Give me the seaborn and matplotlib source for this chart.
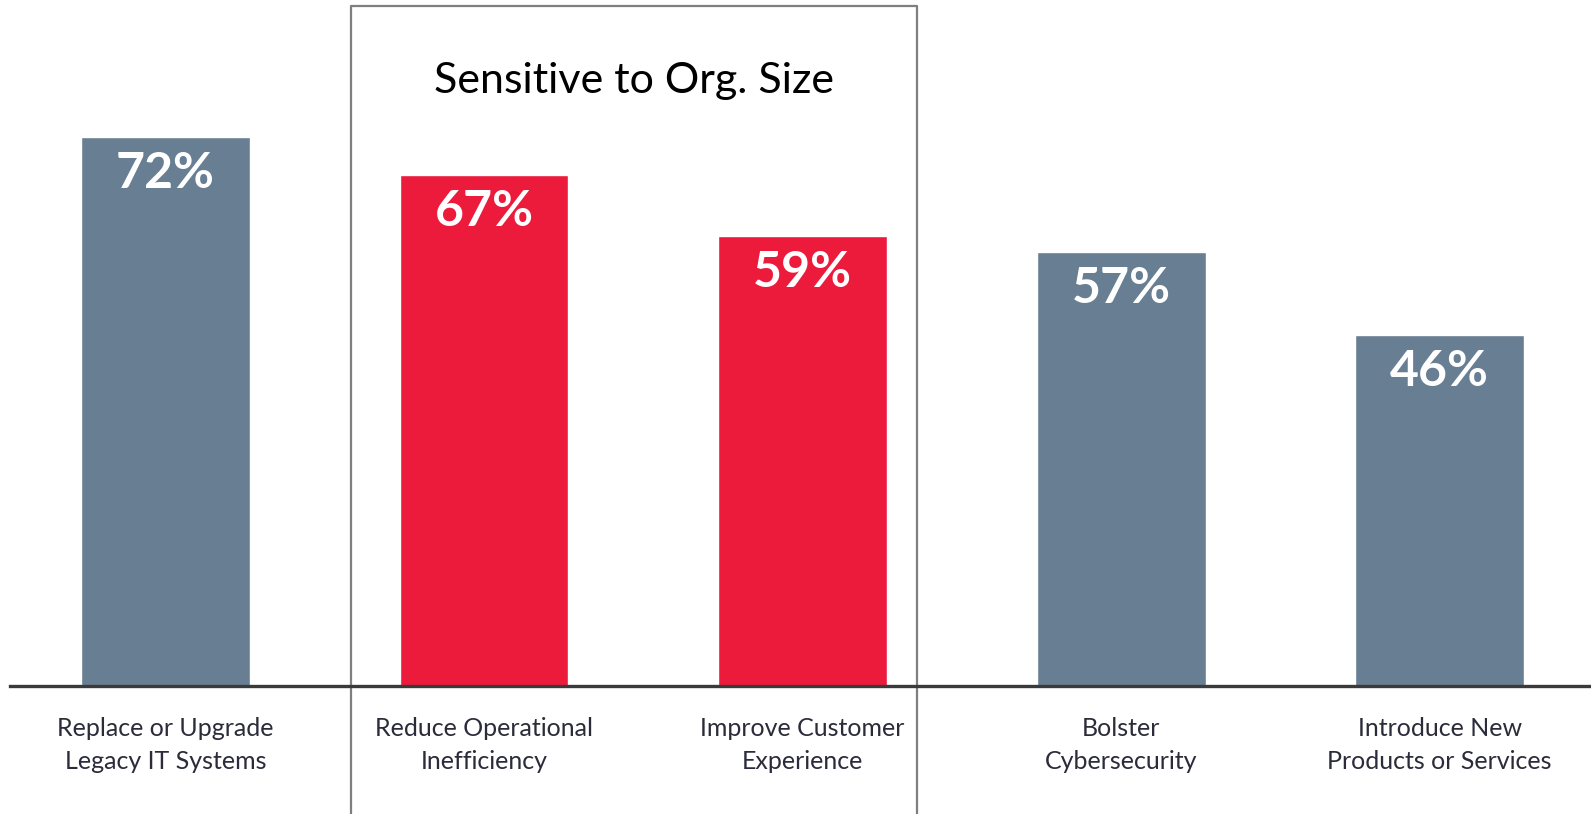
import matplotlib
matplotlib.use("Agg")
import matplotlib.pyplot as plt
import seaborn as sns
import pandas as pd

# Data
categories = [
    "Replace or Upgrade\nLegacy IT Systems",
    "Reduce Operational\nInefficiency",
    "Improve Customer\nExperience",
    "Bolster\nCybersecurity",
    "Introduce New\nProducts or Services",
]
values = [72, 67, 59, 57, 46]
groups = ["other", "sensitive", "sensitive", "other", "other"]
box_title = "Sensitive to Org. Size"

df = pd.DataFrame({"category": categories, "value": values, "group": groups})

sns.set_style("white")
plt.rcParams["font.family"] = ["Lato", "DejaVu Sans"]

fig = plt.figure(figsize=(15.91, 8.14), dpi=100)
ax = fig.add_axes([10 / 1591, 128 / 814, 1 - 10 / 1591, 686 / 814])

sns.barplot(data=df, x="category", y="value", hue="group",
            palette={"other": "#687e92", "sensitive": "#ec1b3b"},
            dodge=False, width=0.53, saturation=1, legend=False, ax=ax)

ax.set_xlim(-0.488, 4.475)
ax.set_ylim(0, 90)

# value labels inside bars
for i, v in enumerate(values):
    ax.text(i, v - 4.8, f"{v}%", ha="center", va="center", color="white",
            fontsize=36, fontweight="bold")

# box around the size-sensitive group
bx0, bx1, by0, by1 = 0.583, 2.359, -17, 89.2
ax.plot([bx0, bx0, bx1, bx1], [by0, by1, by1, by0], color="#7f7f7f",
        lw=1.6, clip_on=False, zorder=0)
ax.text((bx0 + bx1) / 2, 79.4, box_title, ha="center", va="center",
        fontsize=31, color="black")

sns.despine(ax=ax, left=True, top=True, right=True)
ax.spines["bottom"].set_color("#3a3a3a")
ax.spines["bottom"].set_linewidth(2.4)
ax.set_yticks([])
ax.set_xlabel("")
ax.set_ylabel("")
ax.tick_params(axis="x", length=0, pad=22, labelsize=18, labelcolor="#2b2b3a")
for lbl in ax.get_xticklabels():
    lbl.set_linespacing(1.55)

fig.savefig("out.png", dpi=100)
